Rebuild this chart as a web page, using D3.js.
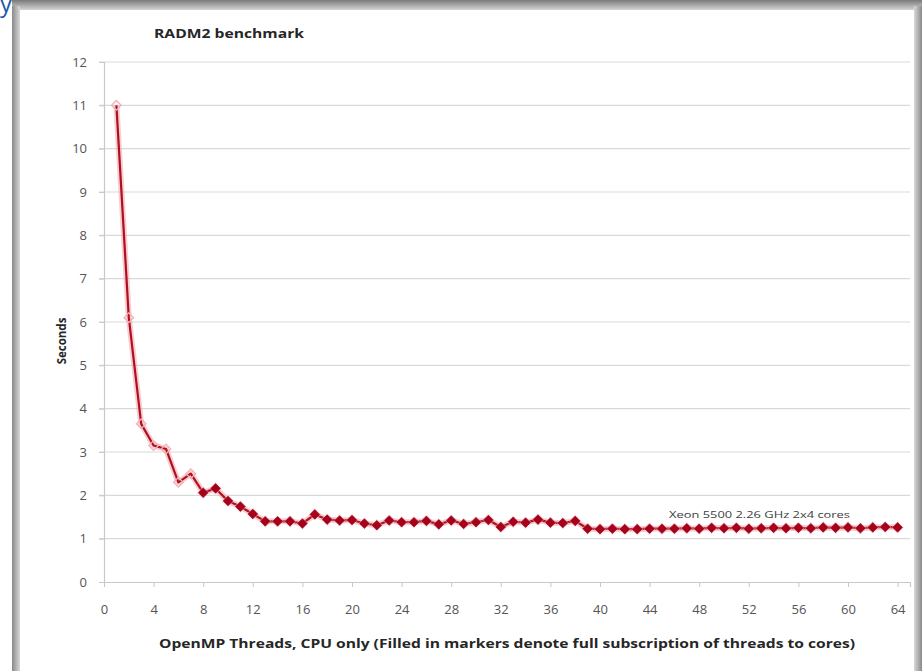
<!DOCTYPE html>
<html>
<head>
<meta charset="utf-8">
<script src="https://cdn.jsdelivr.net/npm/d3@7"></script>
<style>
  html, body { margin: 0; padding: 0; background: #ffffff; }
  svg { display: block; }
</style>
</head>
<body>
<svg id="chart" width="922" height="671"></svg>
<script>
// ---- data ----
const threads = [1,2,3,4,5,6,7,8,9,10,11,12,13,14,15,16,17,18,19,20,21,22,23,24,25,26,27,28,29,30,31,32,
                 33,34,35,36,37,38,39,40,41,42,43,44,45,46,47,48,49,50,51,52,53,54,55,56,57,58,59,60,61,62,63,64];
const seconds = [11.0,6.1,3.65,3.15,3.07,2.3,2.5,2.06,2.16,1.87,1.74,1.57,1.4,1.4,1.4,1.35,1.56,1.44,1.42,1.43,1.35,1.31,
                 1.42,1.38,1.38,1.41,1.33,1.42,1.34,1.38,1.43,1.27,1.39,1.37,1.44,1.37,1.36,1.41,1.23,1.22,1.23,1.22,
                 1.22,1.23,1.23,1.23,1.24,1.23,1.25,1.24,1.25,1.23,1.24,1.25,1.24,1.25,1.24,1.26,1.25,1.26,1.24,1.26,1.27,1.26];
const fullSubscriptionFrom = 8;   // filled markers from 8 threads (2x4 cores)
const xTicks = [0,4,8,12,16,20,24,28,32,36,40,44,48,52,56,60,64];
const yTicks = [0,1,2,3,4,5,6,7,8,9,10,11,12];
const titleText = "RADM2 benchmark";
const yTitle = "Seconds";
const xTitle = "OpenMP Threads, CPU only (Filled in markers denote full subscription of threads to cores)";
const seriesLabel = "Xeon 5500 2.26 GHz 2x4 cores";

// ---- layout ----
const svg = d3.select("#chart");
const W = 922, H = 671;
const plot = {left: 104, right: 910, top: 62, bottom: 582};

const defs = svg.append("defs");
const gTop = defs.append("linearGradient").attr("id","gTop").attr("x1",0).attr("y1",0).attr("x2",0).attr("y2",1);
gTop.append("stop").attr("offset","0%").attr("stop-color","#7a7a7a");
gTop.append("stop").attr("offset","100%").attr("stop-color","#d4d4d4");
const gLeft = defs.append("linearGradient").attr("id","gLeft").attr("x1",0).attr("y1",0).attr("x2",1).attr("y2",0);
gLeft.append("stop").attr("offset","0%").attr("stop-color","#8a8a8a");
gLeft.append("stop").attr("offset","100%").attr("stop-color","#d8d8d8");
const gRight = defs.append("linearGradient").attr("id","gRight").attr("x1",0).attr("y1",0).attr("x2",1).attr("y2",0);
gRight.append("stop").attr("offset","0%").attr("stop-color","#d8d8d8");
gRight.append("stop").attr("offset","100%").attr("stop-color","#8a8a8a");

// background and frame
svg.append("rect").attr("x",0).attr("y",0).attr("width",W).attr("height",H).attr("fill","#ffffff");
svg.append("rect").attr("x",12).attr("y",0).attr("width",W-12).attr("height",10).attr("fill","url(#gTop)");
svg.append("rect").attr("x",12).attr("y",6).attr("width",8).attr("height",H-6).attr("fill","url(#gLeft)");
svg.append("rect").attr("x",914).attr("y",6).attr("width",8).attr("height",H-6).attr("fill","url(#gRight)");
svg.append("rect").attr("x",20).attr("y",10).attr("width",894).attr("height",H-10).attr("fill","#ffffff");
svg.append("text").attr("x",0).attr("y",12).attr("font-family","Open Sans, sans-serif")
   .attr("font-size",24).attr("fill","#1e5aa8").text("y");

// scales
const x = d3.scaleLinear().domain([0, 65]).range([plot.left, plot.right]);
const y = d3.scaleLinear().domain([0, 12]).range([plot.bottom, plot.top]);

const font = "Open Sans, Noto Sans, sans-serif";

// gridlines
svg.append("g").selectAll("line").data(yTicks.filter(d => d > 0)).join("line")
  .attr("x1", plot.left - 5).attr("x2", plot.right)
  .attr("y1", d => y(d)).attr("y2", d => y(d))
  .attr("stroke", "#d9d9d9").attr("stroke-width", 1.2);

// y axis
const yAxis = svg.append("g").attr("transform", `translate(${plot.left},0)`)
  .call(d3.axisLeft(y).tickValues(yTicks).tickSize(5).tickPadding(12).tickFormat(d3.format("d")));
yAxis.select(".domain").attr("stroke", "#c8c8c8").attr("stroke-width", 1.2);
yAxis.selectAll(".tick line").attr("stroke", "#c8c8c8");
yAxis.selectAll(".tick text").attr("font-family", font).attr("font-size", 13).attr("fill", "#555555");

// x axis
const xAxis = svg.append("g").attr("transform", `translate(0,${plot.bottom})`)
  .call(d3.axisBottom(x).tickValues(xTicks).tickSize(5).tickPadding(18).tickFormat(d3.format("d")));
xAxis.select(".domain").attr("stroke", "#c8c8c8").attr("stroke-width", 1.2);
xAxis.selectAll(".tick line").attr("stroke", "#c8c8c8");
xAxis.selectAll(".tick text").attr("font-family", font).attr("font-size", 13).attr("fill", "#555555");

// titles
svg.append("text").attr("x", 154).attr("y", 38).attr("font-family", font).attr("font-weight", "bold")
  .attr("font-size", 12).attr("fill", "#262626")
  .attr("textLength", 150).attr("lengthAdjust", "spacingAndGlyphs").text(titleText);
svg.append("text").attr("transform", "translate(66,341) rotate(-90)").attr("text-anchor", "middle")
  .attr("font-family", font).attr("font-weight", "bold").attr("font-size", 11.5).attr("fill", "#262626")
  .text(yTitle);
svg.append("text").attr("x", 507).attr("y", 648).attr("text-anchor", "middle")
  .attr("font-family", font).attr("font-weight", "bold").attr("font-size", 12).attr("fill", "#262626")
  .attr("textLength", 696).attr("lengthAdjust", "spacingAndGlyphs").text(xTitle);

// series
const data = threads.map((t, i) => ({t, v: seconds[i]}));
const line = d3.line().x(d => x(d.t)).y(d => y(d.v));

svg.append("path").datum(data).attr("d", line).attr("fill", "none")
  .attr("stroke", "#f2a2ac").attr("stroke-width", 6).attr("stroke-opacity", 0.55).attr("stroke-linejoin", "round");
svg.append("path").datum(data).attr("d", line).attr("fill", "none")
  .attr("stroke", "#b0101e").attr("stroke-width", 2.2).attr("stroke-linejoin", "round");

// square diamonds (square rotated 45 degrees)
const sq = d3.symbol().type(d3.symbolSquare);

// hollow markers (under-subscribed)
svg.append("g").selectAll("path").data(data.filter(d => d.t < fullSubscriptionFrom)).join("path")
  .attr("transform", d => `translate(${x(d.t)},${y(d.v)}) rotate(45)`)
  .attr("d", sq.size(46)).attr("fill", "none").attr("stroke", "#f0b0b9").attr("stroke-width", 1.3);

// filled markers (full subscription)
const filled = data.filter(d => d.t >= fullSubscriptionFrom);
svg.append("g").selectAll("path").data(filled).join("path")
  .attr("transform", d => `translate(${x(d.t)},${y(d.v)}) rotate(45)`)
  .attr("d", d3.symbol().type(d3.symbolSquare).size(80)).attr("fill", "#f5b8c0").attr("opacity", 0.55);
svg.append("g").selectAll("path").data(filled).join("path")
  .attr("transform", d => `translate(${x(d.t)},${y(d.v)}) rotate(45)`)
  .attr("d", d3.symbol().type(d3.symbolSquare).size(46)).attr("fill", "#a8001a").attr("stroke", "#8c0016").attr("stroke-width", 0.6);

// series label
svg.append("text").attr("x", 669).attr("y", 518).attr("font-family", font).attr("font-size", 9)
  .attr("fill", "#404040").attr("textLength", 181).attr("lengthAdjust", "spacingAndGlyphs").text(seriesLabel);
</script>
</body>
</html>
